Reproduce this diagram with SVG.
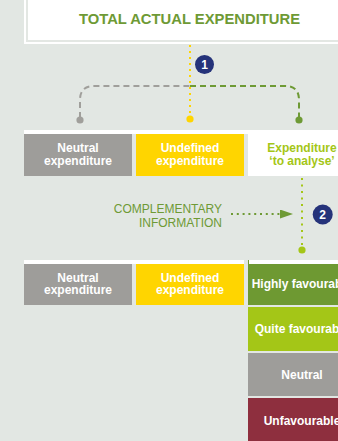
<svg xmlns="http://www.w3.org/2000/svg" width="338" height="441" viewBox="0 0 338 441">
  <defs>
    <style>
      .lbl { font-family: "Liberation Sans", Arial, sans-serif; font-weight: bold; font-size: 12px; fill: #ffffff; text-anchor: middle; }
      .title { font-family: "Liberation Sans", Arial, sans-serif; font-weight: bold; font-size: 14.8px; fill: #6e9a35; text-anchor: middle; }
      .info { font-family: "Liberation Sans", Arial, sans-serif; font-size: 12px; fill: #6e9a35; text-anchor: end; }
      .badge { fill: #25337a; }
      .badge-t { font-family: "Liberation Sans", Arial, sans-serif; font-weight: bold; font-size: 12px; fill: #ffffff; text-anchor: middle; }
    </style>
    <marker id="arrow" viewBox="0 0 13 9" refX="0" refY="4.5" markerWidth="13" markerHeight="9" markerUnits="userSpaceOnUse" orient="auto">
      <path d="M0,0 L13,4.5 L0,9 Z" fill="#6e9a35"/>
    </marker>
  </defs>

  <!-- background -->
  <rect x="0" y="0" width="338" height="441" fill="#e2e7e3"/>

  <!-- total expenditure header -->
  <g id="total">
    <rect x="24" y="-5" width="320" height="49" fill="#ffffff"/>
    <rect x="27" y="-5" width="320" height="46" fill="none" stroke="#e3e7e3" stroke-width="2"/>
    <text class="title" x="189.5" y="24">TOTAL ACTUAL EXPENDITURE</text>
  </g>

  <!-- connectors -->
  <g id="connectors" fill="none" stroke-width="2">
    <line x1="190" y1="45" x2="190" y2="117" stroke="#ffd500" stroke-dasharray="2 4"/>
    <path d="M80,118 V100 Q80,86 94,86 H190" stroke="#a09f9b" stroke-dasharray="6 4"/>
    <path d="M190,86 H285 Q299,86 299,100 V118" stroke="#6e9a35" stroke-dasharray="6 4"/>
    <line x1="302" y1="178" x2="302" y2="248" stroke="#a4c617" stroke-dasharray="2 4.5"/>
    <line x1="231" y1="214" x2="280" y2="214" stroke="#6e9a35" stroke-dasharray="2 3.8" marker-end="url(#arrow)"/>
    <circle cx="80" cy="120" r="3.6" fill="#a09f9b" stroke="none"/>
    <circle cx="190" cy="119" r="3.6" fill="#ffd500" stroke="none"/>
    <circle cx="299" cy="120" r="3.6" fill="#6e9a35" stroke="none"/>
    <circle cx="302" cy="250" r="3.6" fill="#a4c617" stroke="none"/>
  </g>

  <g id="step1">
    <circle class="badge" cx="204.5" cy="64.5" r="9.5"/>
    <text class="badge-t" x="204.5" y="68.8">1</text>
  </g>

  <!-- first split -->
  <rect x="24" y="130" width="314" height="4" fill="#ffffff"/>
  <g id="neutral-1">
    <rect x="24" y="134" width="108" height="42" fill="#9e9d9a"/>
    <text class="lbl" x="78" y="151.5">Neutral</text>
    <text class="lbl" x="78" y="165">expenditure</text>
  </g>
  <g id="undefined-1">
    <rect x="136" y="134" width="108" height="42" fill="#ffd500"/>
    <text class="lbl" x="190" y="151.5">Undefined</text>
    <text class="lbl" x="190" y="165">expenditure</text>
  </g>
  <g id="to-analyse">
    <rect x="248" y="130" width="90" height="46" fill="#ffffff"/>
    <text class="lbl" x="302" y="151.5" style="fill:#a4c617">Expenditure</text>
    <text class="lbl" x="302" y="165" style="fill:#a4c617">‘to analyse’</text>
  </g>

  <g id="complementary">
    <text class="info" x="222" y="213.3">COMPLEMENTARY</text>
    <text class="info" x="222" y="226.7">INFORMATION</text>
  </g>

  <g id="step2">
    <circle class="badge" cx="322.7" cy="214.5" r="10"/>
    <text class="badge-t" x="322.7" y="218.8">2</text>
  </g>

  <!-- second split -->
  <rect x="24" y="260" width="220" height="4" fill="#ffffff"/>
  <rect x="249" y="260" width="89" height="4" fill="#ffffff"/>
  <rect x="248" y="260" width="1" height="4" fill="#6e9932"/>
  <g id="neutral-2">
    <rect x="24" y="264" width="108" height="41" fill="#9e9d9a"/>
    <text class="lbl" x="78" y="281.5">Neutral</text>
    <text class="lbl" x="78" y="294">expenditure</text>
  </g>
  <g id="undefined-2">
    <rect x="136" y="264" width="108" height="41" fill="#ffd500"/>
    <text class="lbl" x="190" y="281.5">Undefined</text>
    <text class="lbl" x="190" y="294">expenditure</text>
  </g>
  <g id="highly-favourable">
    <rect x="248" y="264" width="90" height="41" fill="#6e9932"/>
    <text class="lbl" x="302" y="287.5">Highly favourable</text>
  </g>
  <g id="quite-favourable">
    <rect x="248" y="307" width="90" height="44" fill="#a4c617"/>
    <text class="lbl" x="302" y="333">Quite favourable</text>
  </g>
  <g id="neutral-3">
    <rect x="248" y="353" width="90" height="43" fill="#9e9d9a"/>
    <text class="lbl" x="302" y="379">Neutral</text>
  </g>
  <g id="unfavourable">
    <rect x="248" y="398" width="90" height="45" fill="#8e2f3e"/>
    <text class="lbl" x="302" y="424.5">Unfavourable</text>
  </g>
</svg>
